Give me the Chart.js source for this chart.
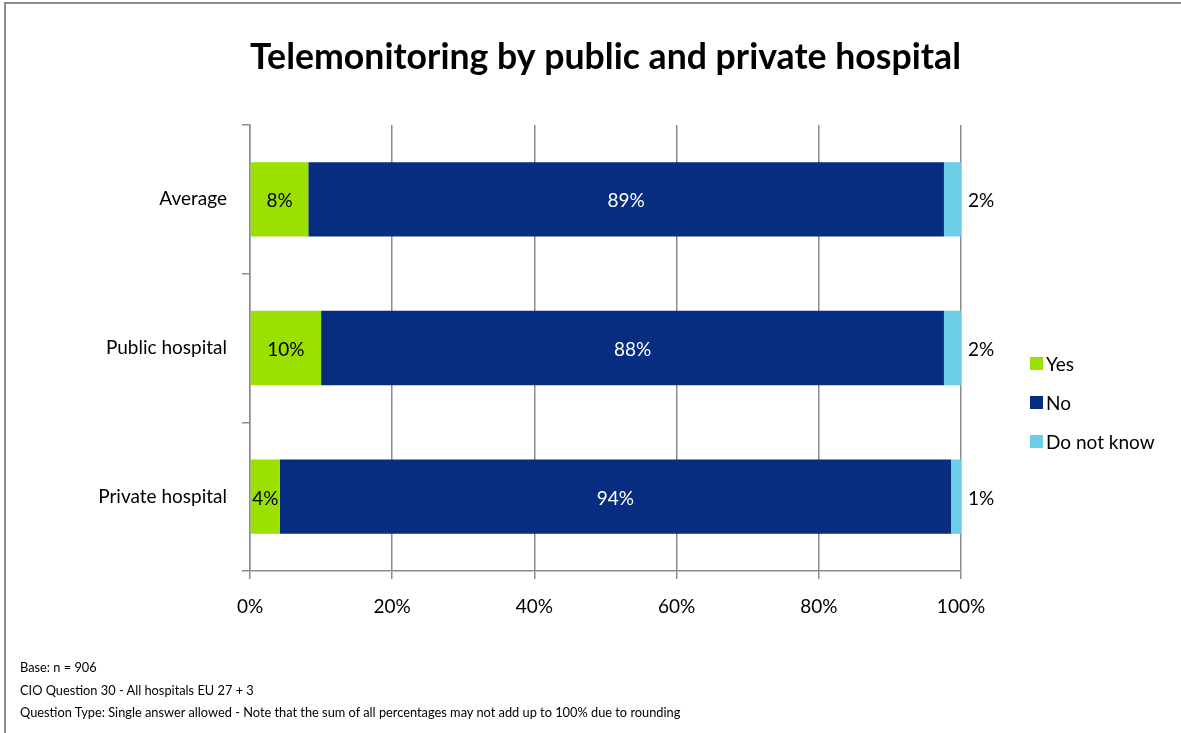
<!DOCTYPE html>
<html lang="en">
<head>
    <meta charset="UTF-8">
    <title>Telemonitoring by public and private hospital</title>
    <script src="https://cdn.jsdelivr.net/npm/chart.js"></script>
    <style>
        body { margin: 0; background: #fff; }
        #wrap { position: relative; width: 1181px; height: 733px; overflow: hidden; font-family: Lato, "Open Sans", sans-serif; }
        #frame { position: absolute; left: 4px; top: 2px; width: 1300px; height: 900px; border-left: 2px solid #8c8c8c; border-top: 2px solid #8c8c8c; }
        #chart { position: absolute; left: 0; top: 0; }
        #notes { position: absolute; left: 20px; top: 656px; font-size: 12.8px; line-height: 22.5px; color: #000; }
    </style>
</head>
<body>
<div id="wrap">
    <div id="frame"></div>
    <canvas id="chart" width="1181" height="733"></canvas>
    <div id="notes">
        Base: n = 906<br>
        CIO Question 30 - All hospitals EU 27 + 3<br>
        Question Type: Single answer allowed - Note that the sum of all percentages may not add up to 100% due to rounding
    </div>
</div>
<script>
    const categories = ["Average", "Public hospital", "Private hospital"];
    const yesValues = [8.2, 10.0, 4.2];
    const noValues = [89.4, 87.6, 94.4];
    const dontKnowValues = [2.4, 2.4, 1.4];
    const xTicks = [0, 20, 40, 60, 80, 100];

    const FONT = "Lato, 'Open Sans', sans-serif";

    // value labels + legend drawn on top of the bars
    const labelsPlugin = {
        id: 'barLabels',
        afterDatasetsDraw(chart) {
            const ctx = chart.ctx;
            ctx.save();
            ctx.font = "19px " + FONT;
            ctx.textBaseline = 'middle';
            chart.data.datasets.forEach((ds, i) => {
                const meta = chart.getDatasetMeta(i);
                meta.data.forEach((bar, j) => {
                    const txt = Math.round(ds.data[j]) + '%';
                    const y = bar.y + 2;
                    if (i === 2) {
                        ctx.textAlign = 'left';
                        ctx.fillStyle = '#000';
                        ctx.fillText(txt, bar.x + 7, y);
                    } else {
                        ctx.textAlign = 'center';
                        ctx.fillStyle = i === 1 ? '#fff' : '#000';
                        ctx.fillText(txt, (bar.base + bar.x) / 2, y);
                    }
                });
            });
            // legend
            const lx = chart.chartArea.right + 69;
            const ly = (chart.chartArea.top + chart.chartArea.bottom) / 2 + 16;
            chart.data.datasets.forEach((ds, i) => {
                const y = ly + i * 39;
                ctx.fillStyle = ds.backgroundColor;
                ctx.fillRect(lx, y - 7, 13, 13);
                ctx.fillStyle = '#000';
                ctx.textAlign = 'left';
                ctx.fillText(ds.label, lx + 16, y + 1);
            });
            ctx.restore();
        }
    };

    new Chart(document.getElementById('chart'), {
        type: 'bar',
        data: {
            labels: categories,
            datasets: [
                { label: 'Yes', data: yesValues, backgroundColor: '#9be000' },
                { label: 'No', data: noValues, backgroundColor: '#062d7f' },
                { label: 'Do not know', data: dontKnowValues, backgroundColor: '#6ccde6' }
            ]
        },
        options: {
            indexAxis: 'y',
            responsive: false,
            animation: false,
            devicePixelRatio: 1,
            barPercentage: 0.5,
            categoryPercentage: 1,
            layout: { padding: { left: 0, right: 220, top: 0, bottom: 0 } },
            plugins: {
                legend: { display: false },
                tooltip: { enabled: false },
                title: {
                    display: true,
                    fullSize: false,
                    text: 'Telemonitoring by public and private hospital',
                    color: '#000',
                    font: { family: FONT, size: 37, weight: 'bold' },
                    padding: { top: 35, bottom: 45.6 }
                }
            },
            scales: {
                x: {
                    stacked: true,
                    min: 0,
                    max: 100,
                    afterBuildTicks: (s) => { s.ticks = xTicks.map(v => ({ value: v })); },
                    afterFit: (s) => { s.height = 162; },
                    ticks: {
                        callback: v => v + '%',
                        color: '#000',
                        font: { family: FONT, size: 19 },
                        padding: 16
                    },
                    grid: { color: '#8c8c8c', tickLength: 8, lineWidth: 1.5 },
                    border: { color: '#8c8c8c', width: 1.5 }
                },
                y: {
                    stacked: true,
                    afterFit: (s) => { s.width = 250; },
                    ticks: {
                        color: '#000',
                        font: { family: FONT, size: 19 },
                        padding: 15
                    },
                    grid: { drawOnChartArea: false, offset: true, color: '#8c8c8c', tickLength: 8, lineWidth: 1.5 },
                    border: { color: '#8c8c8c', width: 1.5 }
                }
            }
        },
        plugins: [labelsPlugin]
    });
</script>
</body>
</html>
